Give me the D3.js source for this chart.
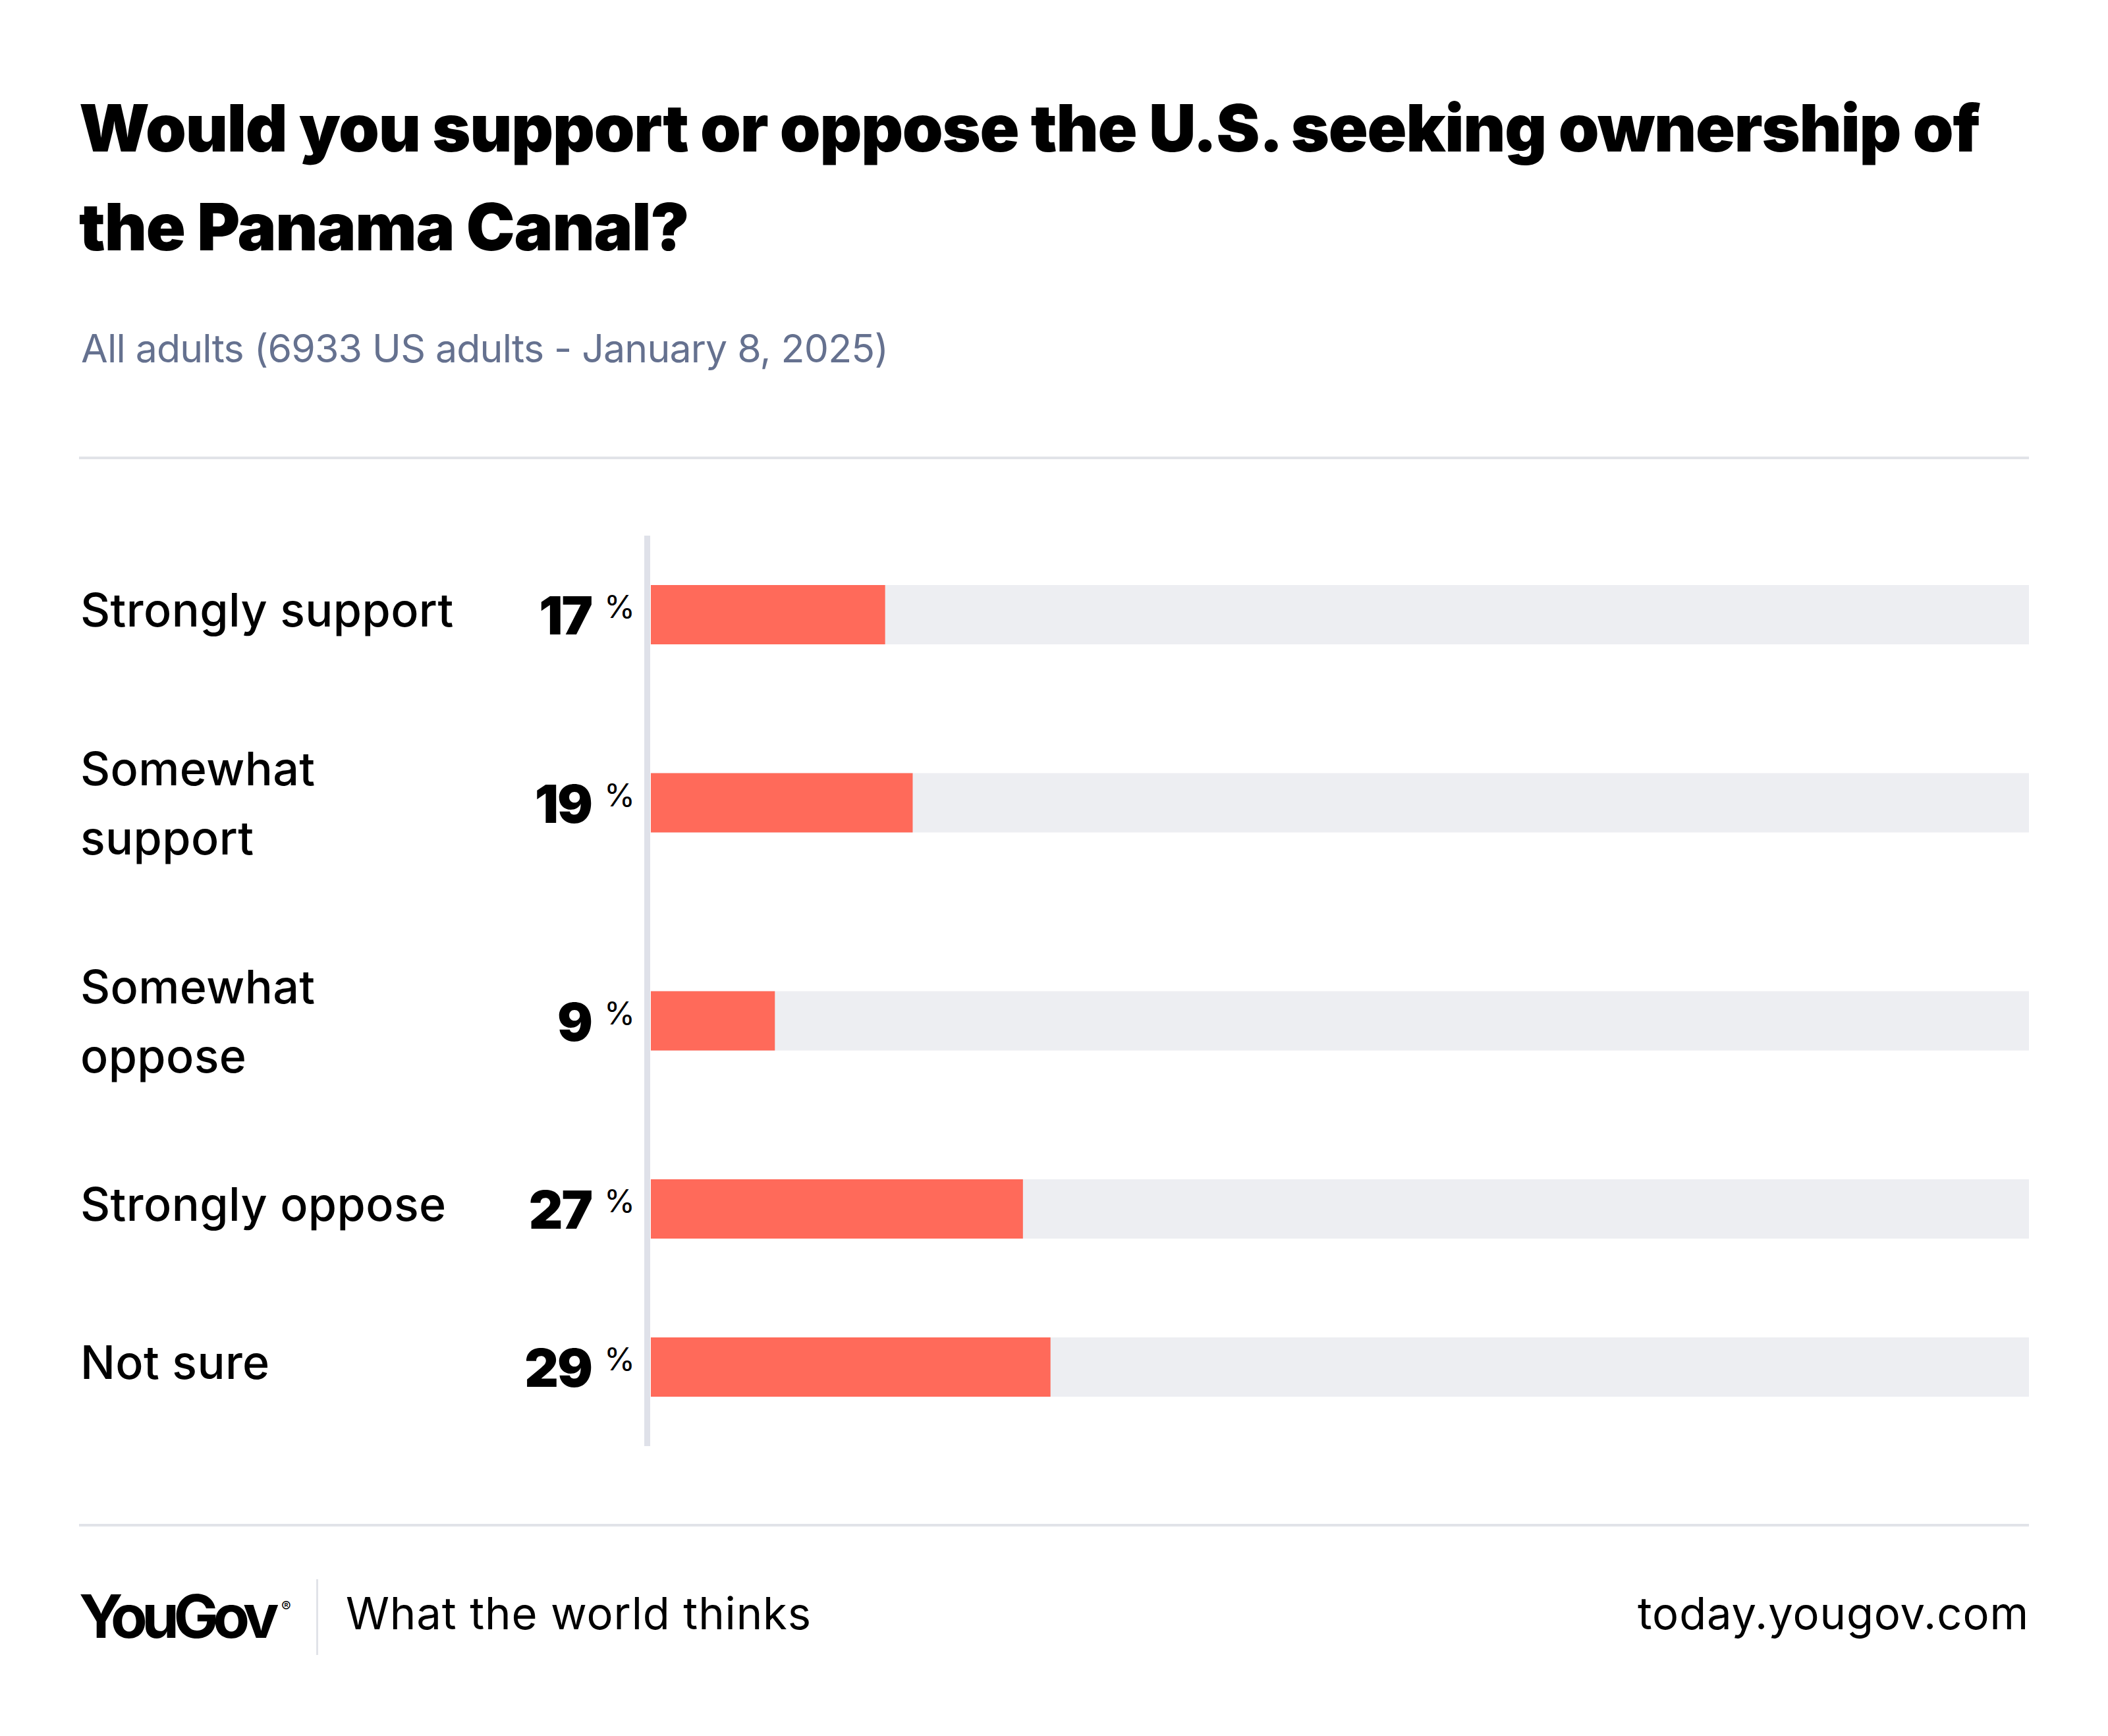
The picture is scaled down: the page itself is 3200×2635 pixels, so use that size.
<!DOCTYPE html>
<html lang="en">
<head>
    <meta charset="UTF-8">
    <title>Panama Canal</title>
    <script src="https://cdn.jsdelivr.net/npm/d3@7"></script>
    <style>
        body { margin: 0; background: #fff; }
        svg { display: block; }
        text { font-family: Inter, "Noto Sans", sans-serif; }
    </style>
</head>
<body>
    <div class="container"></div>
    <script>
        // chart values
        const categories = ["Strongly support", "Somewhat support", "Somewhat oppose", "Strongly oppose", "Not sure"]
        const labelLines = [["Strongly support"], ["Somewhat", "support"], ["Somewhat", "oppose"], ["Strongly oppose"], ["Not sure"]]
        const values = [17, 19, 9, 27, 29]
        const titleLines = ["Would you support or oppose the U.S. seeking ownership of", "the Panama Canal?"]
        const subtitle = "All adults (6933 US adults - January 8, 2025)"

        const W = 3200, H = 2635
        const left = 120, right = 3080
        const plotTop = 813
        const barH = 90

        const svg = d3.select(".container").append("svg")
            .attr("width", W).attr("height", H)

        // stretch text with letter-spacing so it spans the width seen in the original
        function fit(sel, w) {
            const cur = sel.node().getComputedTextLength()
            const n = sel.text().length
            sel.attr("letter-spacing", ((w - cur) / n).toFixed(2))
        }

        // title + subtitle
        svg.selectAll(".title").data(titleLines).enter()
            .append("text").attr("class", "title")
            .attr("x", left).attr("y", (d, i) => 230 + i * 150)
            .attr("font-size", 99).attr("font-weight", 900).attr("fill", "#000")
            .text(d => d)
        fit(svg.select(".title"), 2885)
        svg.selectAll(".title").filter((d, i) => i == 1).attr("letter-spacing", svg.select(".title").attr("letter-spacing"))

        const sub = svg.append("text")
            .attr("x", left + 3).attr("y", 550)
            .attr("font-size", 59).attr("fill", "#65718f")
            .text(subtitle)
        fit(sub, 1225)

        svg.append("rect").attr("x", left).attr("y", 693).attr("width", right - left).attr("height", 4).attr("fill", "#e1e3e8")
        svg.append("rect").attr("x", left).attr("y", 2313).attr("width", right - left).attr("height", 4).attr("fill", "#e1e3e8")

        // row layout: two-line labels get taller rows
        const rowH = labelLines.map(l => 149 + 91 * l.length)
        const centers = []
        let acc = plotTop
        rowH.forEach(h => { centers.push(acc + h / 2); acc += h })
        const plotBottom = acc

        const y = d3.scaleOrdinal().domain(categories).range(centers)
        const x = d3.scaleLinear().domain([0, 100]).range([988, right])

        const rows = categories.map((c, i) => ({ cat: c, lines: labelLines[i], value: values[i] }))

        svg.append("rect")
            .attr("x", 978).attr("y", plotTop).attr("width", 9).attr("height", plotBottom - plotTop)
            .attr("fill", "#dfe1e9")

        const g = svg.selectAll(".row").data(rows).enter().append("g").attr("class", "row")

        g.append("rect")
            .attr("x", x(0)).attr("y", d => y(d.cat) - barH / 2)
            .attr("width", x(100) - x(0)).attr("height", barH)
            .attr("fill", "#edeef2")

        g.append("rect")
            .attr("x", x(0)).attr("y", d => y(d.cat) - barH / 2)
            .attr("width", d => x(d.value) - x(0)).attr("height", barH)
            .attr("fill", "#ff6a5a")

        g.each(function (d) {
            const t = d3.select(this).append("text")
                .attr("x", left + 2)
                .attr("font-size", 70).attr("font-weight", 500).attr("fill", "#000")
                .attr("letter-spacing", 0.4)
            const first = y(d.cat) + 18 - (d.lines.length - 1) * 45
            t.selectAll("tspan").data(d.lines).enter().append("tspan")
                .attr("x", left + 2).attr("y", (l, i) => first + i * 105)
                .text(l => l)
        })

        g.append("text")
            .attr("x", 898).attr("y", d => y(d.cat) + 30)
            .attr("text-anchor", "end")
            .attr("font-size", 80).attr("font-weight", 900).attr("fill", "#000")
            .attr("letter-spacing", -2)
            .text(d => d.value)

        g.append("text")
            .attr("x", 917).attr("y", d => y(d.cat) + 5)
            .attr("font-size", 48).attr("fill", "#000")
            .text("%")

        // footer
        const logo = svg.append("text")
            .attr("x", left).attr("y", 2486)
            .attr("font-size", 91).attr("font-weight", 700).attr("fill", "#000")
            .text("YouGov")
        fit(logo, 295)
        svg.append("text")
            .attr("x", 427).attr("y", 2446)
            .attr("font-size", 22).attr("fill", "#000")
            .text("®")

        svg.append("rect").attr("x", 480).attr("y", 2397).attr("width", 3).attr("height", 115).attr("fill", "#e1e3e8")

        const tag = svg.append("text")
            .attr("x", 525).attr("y", 2473)
            .attr("font-size", 67).attr("font-weight", 400).attr("fill", "#000")
            .text("What the world thinks")
        fit(tag, 707)

        const url = svg.append("text")
            .attr("x", 2486).attr("y", 2473)
            .attr("font-size", 67).attr("font-weight", 400).attr("fill", "#000")
            .text("today.yougov.com")
        fit(url, 594)
    </script>
</body>
</html>
